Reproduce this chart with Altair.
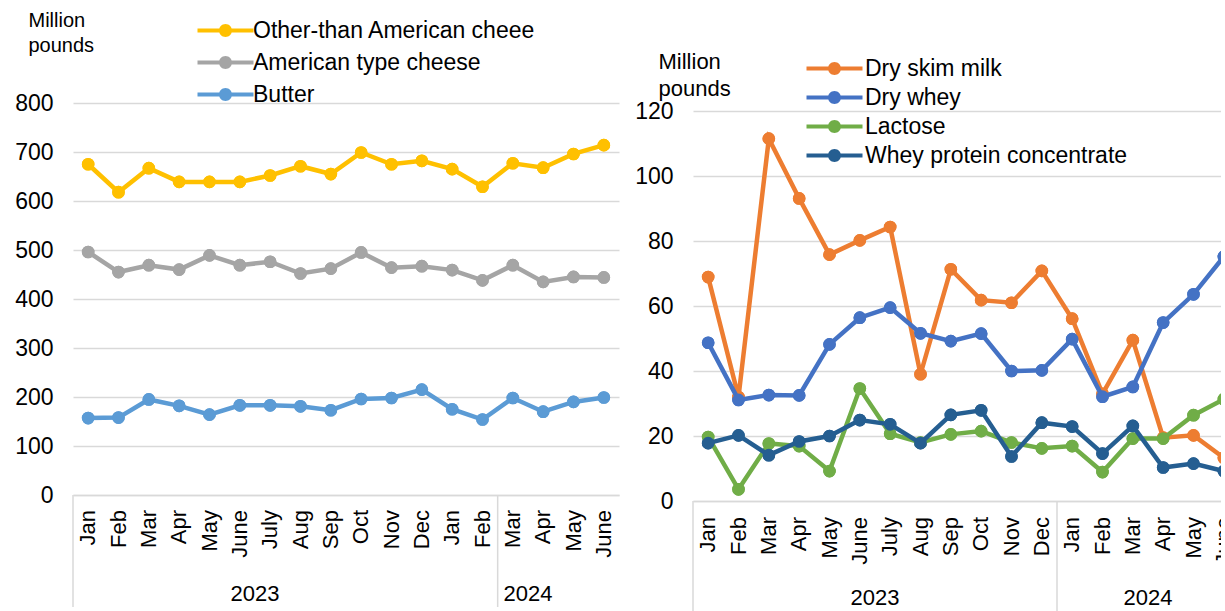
import altair as alt
import pandas as pd

# Shared month axis: Jan 2023 through June 2024
months = ["Jan", "Feb", "Mar", "Apr", "May", "June", "July", "Aug", "Sep", "Oct", "Nov", "Dec",
          "Jan", "Feb", "Mar", "Apr", "May", "June"]
years = ["2023", "2024"]
year_start = [0, 12]
year_end = [11, 17]

# Cheese and butter stocks, million pounds
cheese_names = ["Other-than American cheee", "American type cheese", "Butter"]
cheese_colors = ["#FFC000", "#A5A5A5", "#5B9BD5"]
other_cheese = [675, 618, 667, 639, 639, 639, 652, 671, 655, 699, 675, 682, 665, 629, 677, 668, 696, 714]
american_cheese = [496, 455, 469, 460, 489, 469, 476, 452, 462, 495, 464, 467, 459, 438, 469, 435, 445, 444]
butter = [157, 158, 195, 182, 164, 183, 183, 181, 173, 196, 198, 215, 175, 154, 198, 170, 190, 199]
cheese_dividers = [-0.5, 13.5]

# Dry products, million pounds
dry_names = ["Dry skim milk", "Dry whey", "Lactose", "Whey protein concentrate"]
dry_colors = ["#ED7D31", "#4472C4", "#70AD47", "#255E91"]
dry_skim_milk = [68.9, 32.0, 111.5, 93.1, 75.8, 80.2, 84.3, 39.0, 71.3, 61.8, 61.0, 70.8, 56.1, 33.0, 49.5, 19.5, 20.2, 13.3]
dry_whey = [48.7, 31.1, 32.6, 32.5, 48.2, 56.4, 59.5, 51.6, 49.2, 51.5, 40.0, 40.2, 49.8, 32.1, 35.1, 54.9, 63.6, 75.2]
lactose = [19.7, 3.6, 17.7, 16.9, 9.2, 34.6, 20.7, 18.0, 20.5, 21.5, 18.0, 16.2, 16.9, 8.9, 19.2, 19.2, 26.4, 31.3]
wpc = [17.8, 20.2, 14.1, 18.3, 20.0, 24.9, 23.6, 17.8, 26.5, 27.9, 13.7, 24.1, 22.9, 14.6, 23.1, 10.3, 11.5, 9.2]
dry_dividers = [-0.5, 11.5]

FONT = "Liberation Sans"
GRID = "#D9D9D9"

# legend key: a thick line with a dot in the middle
LEGEND_KEY = ("M-2.8,-0.2H2.8V0.2H-2.8Z "
              "M0.65,0A0.65,0.65 0 1,1 -0.65,0A0.65,0.65 0 1,1 0.65,0Z")


def long_frame(names, series):
    rows = []
    for name, vals in zip(names, series):
        for i, v in enumerate(vals):
            rows.append({"idx": i, "series": name, "value": v})
    return pd.DataFrame(rows)


def panel(names, colors, series, dividers, y_domain, y_ticks, height,
          title_x, title_y, title_size, title_lh, legend_x, legend_y, row_pad,
          label_offset, label_pad, year_dy):
    df = long_frame(names, series)
    x_scale = alt.Scale(domain=[-0.5, 17.5], nice=False, zero=False)
    x = alt.X("idx:Q", scale=x_scale,
              axis=alt.Axis(values=list(range(18)), labels=False, ticks=False, grid=False,
                            domainColor=GRID, domainWidth=1.5, title=None))
    y = alt.Y("value:Q",
              scale=alt.Scale(domain=y_domain, nice=False, zero=True),
              axis=alt.Axis(values=y_ticks, grid=True, gridColor=GRID, gridWidth=1.5,
                            domain=False, ticks=False, labelPadding=20, labelFontSize=23,
                            labelFont=FONT, labelColor="black",
                            title=["Million", "pounds"], titleAngle=0, titleAlign="left",
                            titleBaseline="top", titleX=title_x, titleY=title_y,
                            titleFont=FONT, titleFontSize=title_size,
                            titleFontWeight="normal", titleColor="black",
                            titleLineHeight=title_lh))
    color_scale = alt.Scale(domain=names, range=colors)
    legend = alt.Legend(title=None, orient="none", legendX=legend_x, legendY=legend_y,
                        symbolType=LEGEND_KEY, symbolSize=400, symbolOffset=18,
                        symbolStrokeWidth=0, symbolOpacity=1, labelOffset=label_offset,
                        labelFont=FONT, labelFontSize=23, labelColor="black",
                        labelLimit=500, rowPadding=row_pad, padding=0)
    color = alt.Color("series:N", scale=color_scale, legend=legend)

    base = alt.Chart(df)
    # filled markers first, so the shared legend keys are filled shapes
    layers = [base.mark_point(filled=True, size=160, opacity=1).encode(
        x=x, y=y, color=color)]
    for name in names:
        s = base.transform_filter(alt.datum.series == name)
        layers.append(s.mark_line(strokeWidth=4.5).encode(x=x, y=y, color=color))
        layers.append(s.mark_point(filled=True, size=160, opacity=1).encode(
            x=x, y=y, color=color))

    # month labels under the axis, read bottom to top
    mo_df = pd.DataFrame({"idx": list(range(len(months))), "month": months})
    months_layer = alt.Chart(mo_df).mark_text(
        font=FONT, fontSize=22, color="black", angle=270, align="right",
        baseline="middle").encode(
        x=alt.X("idx:Q", scale=x_scale), y=alt.value(height + label_pad), text="month:N")

    # category group dividers below the axis
    div_df = pd.DataFrame({"pos": dividers})
    dividers_layer = alt.Chart(div_df).mark_rule(color=GRID, strokeWidth=1.5).encode(
        x=alt.X("pos:Q", scale=x_scale), y=alt.value(height), y2=alt.value(height + 112))

    # year labels centred on each calendar year
    yr_df = pd.DataFrame({"year": years,
                          "mid": [(a + b) / 2 for a, b in zip(year_start, year_end)]})
    years_layer = alt.Chart(yr_df).mark_text(font=FONT, fontSize=22, color="black",
                                             baseline="middle").encode(
        x=alt.X("mid:Q", scale=x_scale), y=alt.value(height + year_dy), text="year:N")

    return alt.layer(dividers_layer, months_layer, years_layer, *layers).properties(
        width=546, height=height)


left = panel(cheese_names, cheese_colors, [other_cheese, american_cheese, butter],
             cheese_dividers, [0, 800], list(range(0, 801, 100)), 392,
             title_x=-45, title_y=-93, title_size=20, title_lh=25,
             legend_x=123, legend_y=-84, row_pad=8, label_offset=16,
             label_pad=15, year_dy=99)

right_height = 398
right = panel(dry_names, dry_colors, [dry_skim_milk, dry_whey, lactose, wpc],
              dry_dividers, [0, right_height / 3.25], list(range(0, 121, 20)), right_height,
              title_x=-35, title_y=-52, title_size=22, title_lh=27,
              legend_x=112, legend_y=-46, row_pad=5, label_offset=19,
              label_pad=16, year_dy=97)

# the dry-products panel runs past the right edge, so it is cut off there
chart = alt.hconcat(left, right, spacing=15).resolve_scale(
    color="independent", x="independent", y="independent"
).configure_view(stroke=None).properties(
    padding={"left": 14, "top": 10, "right": -18, "bottom": 0},
    background="white")

chart.save("out.html", embed_options={"renderer": "svg", "actions": False})
